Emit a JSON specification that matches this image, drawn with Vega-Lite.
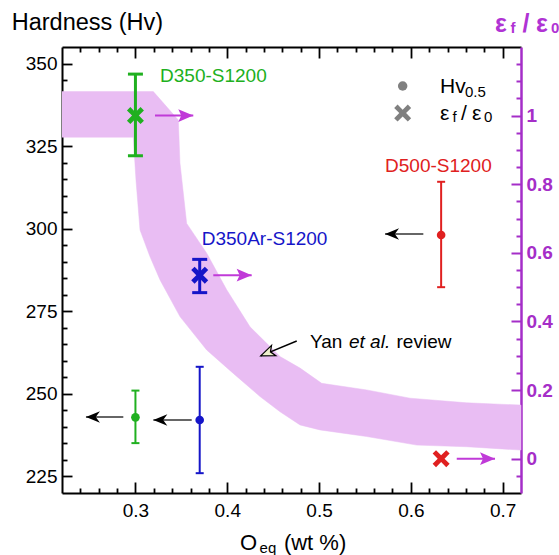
{
 "$schema": "https://vega.github.io/schema/vega-lite/v6.json",
 "width": 459, "height": 446,
 "autosize": {"type": "none"},
 "padding": {"left": 62, "top": 47, "right": 38, "bottom": 62},
 "background": "white",
 "config": {"view": {"stroke": null}, "font": "Liberation Sans"},
 "datasets": {
  "band": [
   {"o":1,"x":0.22,"y":341.5},{"o":2,"x":0.3195,"y":341.5},{"o":3,"x":0.3467,"y":332.9},{"o":4,"x":0.3485,"y":319.9},
   {"o":5,"x":0.3558,"y":301.6},{"o":6,"x":0.3776,"y":292.6},{"o":7,"x":0.3994,"y":281.5},{"o":8,"x":0.4248,"y":270.3},
   {"o":9,"x":0.4575,"y":261.3},{"o":10,"x":0.4793,"y":257.8},{"o":11,"x":0.5029,"y":253.2},{"o":12,"x":0.5519,"y":251.2},
   {"o":13,"x":0.5991,"y":248.7},{"o":14,"x":0.6608,"y":247.3},{"o":15,"x":0.72,"y":246.6},{"o":16,"x":0.72,"y":233.0},
   {"o":17,"x":0.6608,"y":234.0},{"o":18,"x":0.6064,"y":234.5},{"o":19,"x":0.5519,"y":237.1},{"o":20,"x":0.501,"y":239.1},
   {"o":21,"x":0.4793,"y":240.6},{"o":22,"x":0.4575,"y":244.6},{"o":23,"x":0.4357,"y":249.2},{"o":24,"x":0.4066,"y":256.2},
   {"o":25,"x":0.3776,"y":263.3},{"o":26,"x":0.3485,"y":273.4},{"o":27,"x":0.3268,"y":284.5},{"o":28,"x":0.3159,"y":291.5},
   {"o":29,"x":0.305,"y":299.6},{"o":30,"x":0.3006,"y":314.7},{"o":31,"x":0.2977,"y":327.7},{"o":32,"x":0.22,"y":327.7}
  ],
  "hv": [
   {"s":"D350-S1200","x":0.30,"y":242.9,"lo":235.1,"hi":251.0},
   {"s":"D350Ar-S1200","x":0.37,"y":242.1,"lo":226.0,"hi":258.2},
   {"s":"D500-S1200","x":0.633,"y":298.1,"lo":282.3,"hi":314.2}
  ],
  "eps": [
   {"s":"D350-S1200","x":0.30,"e":1.0,"lo":0.883,"hi":1.121},
   {"s":"D350Ar-S1200","x":0.37,"e":0.535,"lo":0.484,"hi":0.581},
   {"s":"D500-S1200","x":0.633,"e":0.0}
  ],
  "larr": [
   {"s":"D350-S1200","x":0.2868,"x2":0.2461,"y":243.0},
   {"s":"D350Ar-S1200","x":0.3613,"x2":0.3195,"y":242.1},
   {"s":"D500-S1200","x":0.6136,"x2":0.5719,"y":298.4}
  ],
  "rarr": [
   {"s":"D350-S1200","x":0.3213,"x2":0.363,"e":1.0},
   {"s":"D350Ar-S1200","x":0.3848,"x2":0.4266,"e":0.535},
   {"s":"D500-S1200","x":0.65,"x2":0.6917,"e":0.0}
  ],
  "ann": [{"x":0.4757,"y":266.0,"x2":0.4365,"y2":261.5}],
  "leg": [{"k":"circle","x":0.5911,"y":343.2},{"k":"cross","x":0.5911,"y":335.0}],
  "lab": [
   {"t":"D350-S1200","s":"D350-S1200","x":0.3268,"y":344.5},
   {"t":"D350Ar-S1200","s":"D350Ar-S1200","x":0.3722,"y":295.1},
   {"t":"D500-S1200","s":"D500-S1200","x":0.5719,"y":317.3}
  ],
  "txt": [
   {"t":"Hardness (Hv)","x":0.1652,"y":360.1,"g":"ytitle"},
   {"t":"O","x":0.4139,"y":202.76,"g":"big"},
   {"t":"eq","x":0.4352,"y":201.8,"g":"sub"},
   {"t":"(wt %)","x":0.4617,"y":202.76,"g":"big"},
   {"t":"ε","x":0.6917,"y":359.6,"g":"rt"},
   {"t":"f","x":0.7085,"y":359.1,"g":"rtsub"},
   {"t":"/","x":0.7215,"y":359.6,"g":"rt"},
   {"t":"ε","x":0.7363,"y":359.6,"g":"rt"},
   {"t":"0","x":0.7527,"y":359.1,"g":"rtsub"},
   {"t":"Hv","x":0.6318,"y":341.08,"g":"leg"},
   {"t":"0.5","x":0.659,"y":339.96,"g":"legsub"},
   {"t":"ε","x":0.6318,"y":332.9,"g":"leg"},
   {"t":"f","x":0.6454,"y":332.2,"g":"legsub"},
   {"t":"/","x":0.6546,"y":332.9,"g":"leg"},
   {"t":"ε","x":0.6666,"y":332.9,"g":"leg"},
   {"t":"0","x":0.6797,"y":332.2,"g":"legsub"},
   {"t":"Yan","x":0.4902,"y":263.8,"g":"blk"},
   {"t":"et al.","x":0.5326,"y":263.8,"g":"ital"},
   {"t":"review","x":0.5844,"y":263.8,"g":"blk"}
  ]
 },
 "layer": [
  {"data":{"name":"band"},"mark":{"type":"line","fill":"#e9bdf3","stroke":"#e9bdf3","strokeWidth":0.5},
   "encoding":{
    "x": {"field":"x","type":"quantitative","scale":{"domain":[0.22,0.72],"nice":false,"zero":false},
     "axis":{"orient":"bottom","values":[0.24,0.26,0.28,0.3,0.32,0.34,0.36,0.38,0.4,0.42,0.44,0.46,0.48,0.5,0.52,0.54,0.56,0.58,0.6,0.62,0.64,0.66,0.68,0.7],
      "labelExpr":"round(datum.value*100) % 10 === 0 ? format(datum.value, '.1f') : ''",
      "tickSize":{"condition":{"test":"round(datum.value*100) % 10 === 0","value":-11},"value":-5},
      "labelPadding":19,"labelFontSize":19,"labelColor":"black",
      "tickColor":"black","tickWidth":1.8,"domainColor":"black","domainWidth":2,
      "title":null,"grid":false,"labelOverlap":false,"labelFlush":false}},
    "y": {"field":"y","type":"quantitative","scale":{"domain":[220,355],"nice":false,"zero":false},
     "axis":{"orient":"left","values":[225,230,235,240,245,250,255,260,265,270,275,280,285,290,295,300,305,310,315,320,325,330,335,340,345,350],
      "labelExpr":"datum.value % 25 === 0 ? datum.label : ''",
      "tickSize":{"condition":{"test":"datum.value % 25 === 0","value":-10},"value":-5},
      "labelPadding":15,"labelFontSize":19,"labelColor":"black",
      "tickColor":"black","tickWidth":1.8,"domainColor":"black","domainWidth":2,
      "title":null,"grid":false,"labelOverlap":false,"labelFlush":false}},
    "order":{"field":"o","type":"quantitative"}}},
  {"data":{"name":"hv"},"mark":{"type":"rule","strokeWidth":2},
   "encoding":{"x":{"field":"x","type":"quantitative","scale":{"domain":[0.22,0.72],"nice":false,"zero":false},"axis":null},
    "y":{"field":"lo","type":"quantitative","scale":{"domain":[220,355],"nice":false,"zero":false},"axis":null},"y2":{"field":"hi"},
    "color":{"field":"s","type":"nominal","scale":{"domain":["D350-S1200","D350Ar-S1200","D500-S1200"],"range":["#20b020","#1515c8","#e02020"]},"legend":null}}},
  {"data":{"name":"hv"},"mark":{"type":"point","shape":"M-1,0L1,0","filled":false,"size":64,"strokeWidth":2,"opacity":1},
   "encoding":{"x":{"field":"x","type":"quantitative","scale":{"domain":[0.22,0.72],"nice":false,"zero":false},"axis":null},
    "y":{"field":"lo","type":"quantitative","scale":{"domain":[220,355],"nice":false,"zero":false},"axis":null},
    "color":{"field":"s","type":"nominal","scale":{"domain":["D350-S1200","D350Ar-S1200","D500-S1200"],"range":["#20b020","#1515c8","#e02020"]},"legend":null}}},
  {"data":{"name":"hv"},"mark":{"type":"point","shape":"M-1,0L1,0","filled":false,"size":64,"strokeWidth":2,"opacity":1},
   "encoding":{"x":{"field":"x","type":"quantitative","scale":{"domain":[0.22,0.72],"nice":false,"zero":false},"axis":null},
    "y":{"field":"hi","type":"quantitative","scale":{"domain":[220,355],"nice":false,"zero":false},"axis":null},
    "color":{"field":"s","type":"nominal","scale":{"domain":["D350-S1200","D350Ar-S1200","D500-S1200"],"range":["#20b020","#1515c8","#e02020"]},"legend":null}}},
  {"data":{"name":"hv"},"mark":{"type":"point","shape":"circle","filled":true,"size":75,"opacity":1},
   "encoding":{"x":{"field":"x","type":"quantitative","scale":{"domain":[0.22,0.72],"nice":false,"zero":false},"axis":null},
    "y":{"field":"y","type":"quantitative","scale":{"domain":[220,355],"nice":false,"zero":false},"axis":null},
    "color":{"field":"s","type":"nominal","scale":{"domain":["D350-S1200","D350Ar-S1200","D500-S1200"],"range":["#20b020","#1515c8","#e02020"]},"legend":null}}},
  {"data":{"name":"larr"},"mark":{"type":"rule","color":"#333333","strokeWidth":1.5},
   "encoding":{"x":{"field":"x","type":"quantitative","scale":{"domain":[0.22,0.72],"nice":false,"zero":false},"axis":null},"x2":{"field":"x2"},
    "y":{"field":"y","type":"quantitative","scale":{"domain":[220,355],"nice":false,"zero":false},"axis":null}}},
  {"data":{"name":"larr"},"mark":{"type":"point","shape":"M0,0L2,-0.83L1.4,0L2,0.83Z","filled":true,"size":196,"color":"black","opacity":1},
   "encoding":{"x":{"field":"x2","type":"quantitative","scale":{"domain":[0.22,0.72],"nice":false,"zero":false},"axis":null},
    "y":{"field":"y","type":"quantitative","scale":{"domain":[220,355],"nice":false,"zero":false},"axis":null}}},
  {"data":{"name":"ann"},"mark":{"type":"rule","color":"black","strokeWidth":1.5},
   "encoding":{"x":{"field":"x","type":"quantitative","scale":{"domain":[0.22,0.72],"nice":false,"zero":false},"axis":null},"x2":{"field":"x2"},
    "y":{"field":"y","type":"quantitative","scale":{"domain":[220,355],"nice":false,"zero":false},"axis":null},"y2":{"field":"y2"}}},
  {"data":{"name":"ann"},"mark":{"type":"point","shape":"M0,0L2,-0.8L1.5,0L2,0.8Z","filled":true,"size":196,"fill":"#eef0cc","stroke":"black","strokeWidth":1.2,"angle":-22.6,"opacity":1},
   "encoding":{"x":{"field":"x2","type":"quantitative","scale":{"domain":[0.22,0.72],"nice":false,"zero":false},"axis":null},
    "y":{"field":"y2","type":"quantitative","scale":{"domain":[220,355],"nice":false,"zero":false},"axis":null}}},
  {"data":{"name":"leg"},"transform":[{"filter":"datum.k === 'circle'"}],"mark":{"type":"point","shape":"circle","filled":true,"size":90,"color":"#808080","opacity":1},
   "encoding":{"x":{"field":"x","type":"quantitative","scale":{"domain":[0.22,0.72],"nice":false,"zero":false},"axis":null},
    "y":{"field":"y","type":"quantitative","scale":{"domain":[220,355],"nice":false,"zero":false},"axis":null}}},
  {"data":{"name":"leg"},"transform":[{"filter":"datum.k === 'cross'"}],"mark":{"type":"point","shape":"M-1,-0.6L-0.6,-1L0,-0.4L0.6,-1L1,-0.6L0.4,0L1,0.6L0.6,1L0,0.4L-0.6,1L-1,0.6L-0.4,0Z","filled":true,"size":289,"color":"#808080","opacity":1},
   "encoding":{"x":{"field":"x","type":"quantitative","scale":{"domain":[0.22,0.72],"nice":false,"zero":false},"axis":null},
    "y":{"field":"y","type":"quantitative","scale":{"domain":[220,355],"nice":false,"zero":false},"axis":null}}},
  {"data":{"name":"lab"},"mark":{"type":"text","align":"left","baseline":"alphabetic","fontSize":19},
   "encoding":{"x":{"field":"x","type":"quantitative","scale":{"domain":[0.22,0.72],"nice":false,"zero":false},"axis":null},
    "y":{"field":"y","type":"quantitative","scale":{"domain":[220,355],"nice":false,"zero":false},"axis":null},
    "text":{"field":"t"},"color":{"field":"s","type":"nominal","scale":{"domain":["D350-S1200","D350Ar-S1200","D500-S1200"],"range":["#20b020","#1515c8","#e02020"]},"legend":null}}},
  {"data":{"name":"txt"},"transform":[{"filter":"datum.g === 'ytitle'"}],"mark":{"type":"text","align":"left","baseline":"alphabetic","fontSize":23.5,"color":"black"},
   "encoding":{"x":{"field":"x","type":"quantitative","scale":{"domain":[0.22,0.72],"nice":false,"zero":false},"axis":null},"y":{"field":"y","type":"quantitative","scale":{"domain":[220,355],"nice":false,"zero":false},"axis":null},"text":{"field":"t"}}},
  {"data":{"name":"txt"},"transform":[{"filter":"datum.g === 'big'"}],"mark":{"type":"text","align":"left","baseline":"alphabetic","fontSize":22,"color":"black"},
   "encoding":{"x":{"field":"x","type":"quantitative","scale":{"domain":[0.22,0.72],"nice":false,"zero":false},"axis":null},"y":{"field":"y","type":"quantitative","scale":{"domain":[220,355],"nice":false,"zero":false},"axis":null},"text":{"field":"t"}}},
  {"data":{"name":"txt"},"transform":[{"filter":"datum.g === 'sub'"}],"mark":{"type":"text","align":"left","baseline":"alphabetic","fontSize":15,"color":"black"},
   "encoding":{"x":{"field":"x","type":"quantitative","scale":{"domain":[0.22,0.72],"nice":false,"zero":false},"axis":null},"y":{"field":"y","type":"quantitative","scale":{"domain":[220,355],"nice":false,"zero":false},"axis":null},"text":{"field":"t"}}},
  {"data":{"name":"txt"},"transform":[{"filter":"datum.g === 'leg'"}],"mark":{"type":"text","align":"left","baseline":"alphabetic","fontSize":21,"color":"black"},
   "encoding":{"x":{"field":"x","type":"quantitative","scale":{"domain":[0.22,0.72],"nice":false,"zero":false},"axis":null},"y":{"field":"y","type":"quantitative","scale":{"domain":[220,355],"nice":false,"zero":false},"axis":null},"text":{"field":"t"}}},
  {"data":{"name":"txt"},"transform":[{"filter":"datum.g === 'legsub'"}],"mark":{"type":"text","align":"left","baseline":"alphabetic","fontSize":15,"color":"black"},
   "encoding":{"x":{"field":"x","type":"quantitative","scale":{"domain":[0.22,0.72],"nice":false,"zero":false},"axis":null},"y":{"field":"y","type":"quantitative","scale":{"domain":[220,355],"nice":false,"zero":false},"axis":null},"text":{"field":"t"}}},
  {"data":{"name":"txt"},"transform":[{"filter":"datum.g === 'blk'"}],"mark":{"type":"text","align":"left","baseline":"alphabetic","fontSize":19,"color":"black"},
   "encoding":{"x":{"field":"x","type":"quantitative","scale":{"domain":[0.22,0.72],"nice":false,"zero":false},"axis":null},"y":{"field":"y","type":"quantitative","scale":{"domain":[220,355],"nice":false,"zero":false},"axis":null},"text":{"field":"t"}}},
  {"data":{"name":"txt"},"transform":[{"filter":"datum.g === 'ital'"}],"mark":{"type":"text","align":"left","baseline":"alphabetic","fontSize":19,"fontStyle":"italic","color":"black"},
   "encoding":{"x":{"field":"x","type":"quantitative","scale":{"domain":[0.22,0.72],"nice":false,"zero":false},"axis":null},"y":{"field":"y","type":"quantitative","scale":{"domain":[220,355],"nice":false,"zero":false},"axis":null},"text":{"field":"t"}}},
  {"data":{"name":"txt"},"transform":[{"filter":"datum.g === 'rt'"}],"mark":{"type":"text","align":"left","baseline":"alphabetic","fontSize":25,"fontWeight":"bold","color":"#b033d4"},
   "encoding":{"x":{"field":"x","type":"quantitative","scale":{"domain":[0.22,0.72],"nice":false,"zero":false},"axis":null},"y":{"field":"y","type":"quantitative","scale":{"domain":[220,355],"nice":false,"zero":false},"axis":null},"text":{"field":"t"}}},
  {"data":{"name":"txt"},"transform":[{"filter":"datum.g === 'rtsub'"}],"mark":{"type":"text","align":"left","baseline":"alphabetic","fontSize":15,"fontWeight":"bold","color":"#b033d4"},
   "encoding":{"x":{"field":"x","type":"quantitative","scale":{"domain":[0.22,0.72],"nice":false,"zero":false},"axis":null},"y":{"field":"y","type":"quantitative","scale":{"domain":[220,355],"nice":false,"zero":false},"axis":null},"text":{"field":"t"}}},
  {"data":{"name":"eps"},"transform":[{"filter":"isValid(datum.lo)"}],"mark":{"type":"rule","strokeWidth":3},
   "encoding":{
    "x": {"field":"x","type":"quantitative","scale":{"domain":[0.22,0.72],"nice":false,"zero":false},
     "axis":{"orient":"top","values":[0.24,0.26,0.28,0.3,0.32,0.34,0.36,0.38,0.4,0.42,0.44,0.46,0.48,0.5,0.52,0.54,0.56,0.58,0.6,0.62,0.64,0.66,0.68,0.7],
      "labels":false,
      "tickSize":{"condition":{"test":"round(datum.value*100) % 10 === 0","value":-11},"value":-5},
      "tickColor":"black","tickWidth":1.8,"domainColor":"black","domainWidth":2,
      "title":null,"grid":false}},
    "y": {"field":"lo","type":"quantitative","scale":{"domain":[-0.1,1.2],"nice":false,"zero":false},
     "axis":{"orient":"right","values":[-0.05,0,0.05,0.1,0.15,0.2,0.25,0.3,0.35,0.4,0.45,0.5,0.55,0.6,0.65,0.7,0.75,0.8,0.85,0.9,0.95,1,1.05,1.1,1.15],
      "labelExpr":"round(datum.value*100) % 20 === 0 ? format(datum.value, '.1~f') : ''",
      "tickSize":{"condition":{"test":"round(datum.value*100) % 20 === 0","value":-10},"value":-5},
      "labelPadding":15,"labelFontSize":19,"labelFontWeight":"bold","labelColor":"#a52ec8",
      "tickColor":"#a52ec8","tickWidth":2,"domainColor":"#a52ec8","domainWidth":2.5,
      "title":null,"grid":false,"labelOverlap":false,"labelFlush":false}},
    "y2":{"field":"hi"},
    "color":{"field":"s","type":"nominal","scale":{"domain":["D350-S1200","D350Ar-S1200","D500-S1200"],"range":["#20b020","#1515c8","#e02020"]},"legend":null}}},
  {"data":{"name":"eps"},"transform":[{"filter":"isValid(datum.lo)"}],"mark":{"type":"point","shape":"M-1,0L1,0","filled":false,"size":225,"strokeWidth":3,"opacity":1},
   "encoding":{"x":{"field":"x","type":"quantitative","scale":{"domain":[0.22,0.72],"nice":false,"zero":false},"axis":null},
    "y":{"field":"lo","type":"quantitative","scale":{"domain":[-0.1,1.2],"nice":false,"zero":false},"axis":null},
    "color":{"field":"s","type":"nominal","scale":{"domain":["D350-S1200","D350Ar-S1200","D500-S1200"],"range":["#20b020","#1515c8","#e02020"]},"legend":null}}},
  {"data":{"name":"eps"},"transform":[{"filter":"isValid(datum.hi)"}],"mark":{"type":"point","shape":"M-1,0L1,0","filled":false,"size":225,"strokeWidth":3,"opacity":1},
   "encoding":{"x":{"field":"x","type":"quantitative","scale":{"domain":[0.22,0.72],"nice":false,"zero":false},"axis":null},
    "y":{"field":"hi","type":"quantitative","scale":{"domain":[-0.1,1.2],"nice":false,"zero":false},"axis":null},
    "color":{"field":"s","type":"nominal","scale":{"domain":["D350-S1200","D350Ar-S1200","D500-S1200"],"range":["#20b020","#1515c8","#e02020"]},"legend":null}}},
  {"data":{"name":"eps"},"mark":{"type":"point","shape":"M-1,-0.6L-0.6,-1L0,-0.4L0.6,-1L1,-0.6L0.4,0L1,0.6L0.6,1L0,0.4L-0.6,1L-1,0.6L-0.4,0Z","filled":true,"size":289,"opacity":1},
   "encoding":{"x":{"field":"x","type":"quantitative","scale":{"domain":[0.22,0.72],"nice":false,"zero":false},"axis":null},
    "y":{"field":"e","type":"quantitative","scale":{"domain":[-0.1,1.2],"nice":false,"zero":false},"axis":null},
    "color":{"field":"s","type":"nominal","scale":{"domain":["D350-S1200","D350Ar-S1200","D500-S1200"],"range":["#20b020","#1515c8","#e02020"]},"legend":null}}},
  {"data":{"name":"rarr"},"mark":{"type":"rule","color":"#c03ad8","strokeWidth":2},
   "encoding":{"x":{"field":"x","type":"quantitative","scale":{"domain":[0.22,0.72],"nice":false,"zero":false},"axis":null},"x2":{"field":"x2"},
    "y":{"field":"e","type":"quantitative","scale":{"domain":[-0.1,1.2],"nice":false,"zero":false},"axis":null}}},
  {"data":{"name":"rarr"},"mark":{"type":"point","shape":"M0,0L-2,-0.85L-1.6,0L-2,0.85Z","filled":true,"size":225,"color":"#c03ad8","opacity":1},
   "encoding":{"x":{"field":"x2","type":"quantitative","scale":{"domain":[0.22,0.72],"nice":false,"zero":false},"axis":null},
    "y":{"field":"e","type":"quantitative","scale":{"domain":[-0.1,1.2],"nice":false,"zero":false},"axis":null}}}
 ],
 "resolve": {"scale": {"y": "independent"}, "axis": {"x": "independent", "y": "independent"}}
}
